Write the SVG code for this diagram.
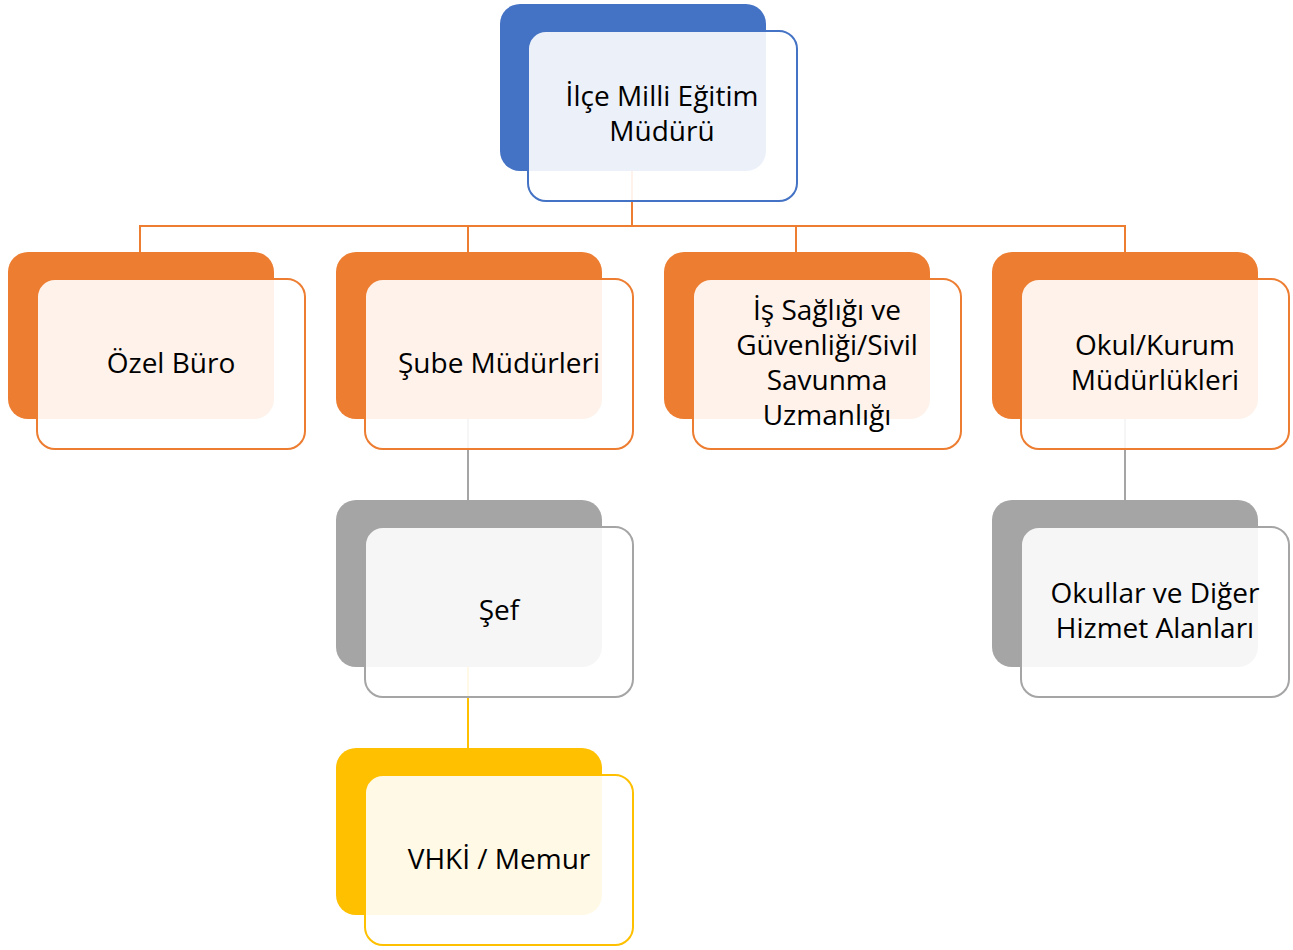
<svg xmlns="http://www.w3.org/2000/svg" width="1293" height="950" viewBox="0 0 1293 950">
<style>
.t{font-family:"Open Sans","Noto Sans",sans-serif;font-size:28px;fill:#000;text-anchor:middle}
.f{fill:#fff;fill-opacity:0.9;stroke-width:2}
.c{fill:none;stroke-width:2}
</style>
<rect width="1293" height="950" fill="#fff"/>
<g id="connectors">
<path class="c" stroke="#ed7d31" d="M632 171V226M140 252V226H1125V252M468 226V252M796 226V252"/>
<path class="c" stroke="#a5a5a5" d="M468 419V500M1125 419V500"/>
<path class="c" stroke="#ffc000" d="M468 667V748"/>
</g>
<g id="n1">
<rect x="500" y="4" width="266" height="167" rx="20" fill="#4472c4"/>
<rect class="f" x="528" y="31" width="269" height="170" rx="18" stroke="#4472c4"/>
<text class="t" x="662" y="106">İlçe Milli Eğitim</text>
<text class="t" x="662" y="141">Müdürü</text>
</g>
<g id="n2">
<rect x="8" y="252" width="266" height="167" rx="20" fill="#ed7d31"/>
<rect class="f" x="37" y="279" width="268" height="170" rx="18" stroke="#ed7d31"/>
<text class="t" x="171" y="373">Özel Büro</text>
</g>
<g id="n3">
<rect x="336" y="252" width="266" height="167" rx="20" fill="#ed7d31"/>
<rect class="f" x="365" y="279" width="268" height="170" rx="18" stroke="#ed7d31"/>
<text class="t" x="499" y="373">Şube Müdürleri</text>
</g>
<g id="n4">
<rect x="664" y="252" width="266" height="167" rx="20" fill="#ed7d31"/>
<rect class="f" x="693" y="279" width="268" height="170" rx="18" stroke="#ed7d31"/>
<text class="t" x="827" y="320">İş Sağlığı ve</text>
<text class="t" x="827" y="355">Güvenliği/Sivil</text>
<text class="t" x="827" y="390">Savunma</text>
<text class="t" x="827" y="425">Uzmanlığı</text>
</g>
<g id="n5">
<rect x="992" y="252" width="266" height="167" rx="20" fill="#ed7d31"/>
<rect class="f" x="1021" y="279" width="268" height="170" rx="18" stroke="#ed7d31"/>
<text class="t" x="1155" y="355">Okul/Kurum</text>
<text class="t" x="1155" y="390">Müdürlükleri</text>
</g>
<g id="n6">
<rect x="336" y="500" width="266" height="167" rx="20" fill="#a5a5a5"/>
<rect class="f" x="365" y="527" width="268" height="170" rx="18" stroke="#a5a5a5"/>
<text class="t" x="499" y="620">Şef</text>
</g>
<g id="n7">
<rect x="992" y="500" width="266" height="167" rx="20" fill="#a5a5a5"/>
<rect class="f" x="1021" y="527" width="268" height="170" rx="18" stroke="#a5a5a5"/>
<text class="t" x="1155" y="603">Okullar ve Diğer</text>
<text class="t" x="1155" y="638">Hizmet Alanları</text>
</g>
<g id="n8">
<rect x="336" y="748" width="266" height="167" rx="20" fill="#ffc000"/>
<rect class="f" x="365" y="775" width="268" height="170" rx="18" stroke="#ffc000"/>
<text class="t" x="499" y="869">VHKİ / Memur</text>
</g>
</svg>
